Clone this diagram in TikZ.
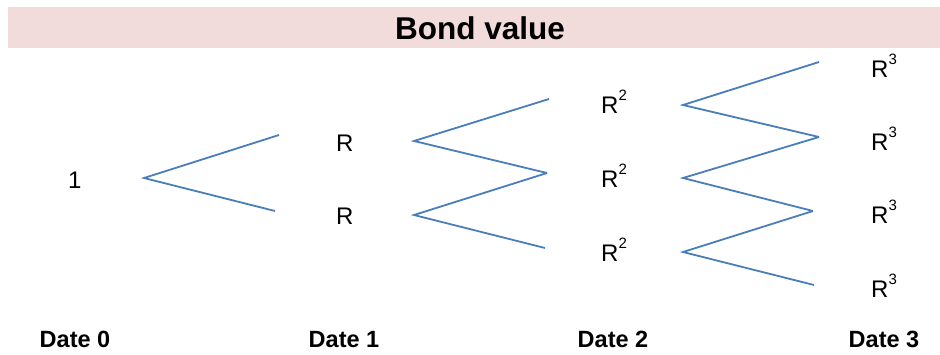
\documentclass[tikz,border=0pt]{standalone}
\usepackage{fontspec}
\setmainfont{Liberation Sans}
\definecolor{band}{HTML}{F2DCDB}
\definecolor{link}{HTML}{4A7EBB}
\newcommand{\mysup}[1]{\raisebox{13pt}{\fontsize{15}{18}\selectfont #1}}
\begin{document}
\begin{tikzpicture}[x=1pt,y=-1pt,
  lbl/.style={font=\fontsize{24}{28}\selectfont, inner sep=0pt},
  datelbl/.style={font=\bfseries\fontsize{23.5}{27}\selectfont, inner sep=0pt, anchor=base},
  titlelbl/.style={font=\bfseries\fontsize{31.5}{36}\selectfont, inner sep=0pt},
  branch/.style={draw=link, line width=1.8pt}]
\useasboundingbox (0,0) rectangle (940,354);
\fill[band] (8,7) rectangle (940,48);
\node[titlelbl] (title) at (480,28) {Bond value};
% values
\node[lbl, anchor=base west] (v0) at (68,188) {1};
\node[lbl, anchor=base west] (v1u) at (336,151) {R};
\node[lbl, anchor=base west] (v1d) at (336,224) {R};
\node[lbl, anchor=base west] (v2u) at (601,113) {R\mysup{2}};
\node[lbl, anchor=base west] (v2m) at (601,187) {R\mysup{2}};
\node[lbl, anchor=base west] (v2d) at (601,261) {R\mysup{2}};
\node[lbl, anchor=base west] (v3a) at (871,77) {R\mysup{3}};
\node[lbl, anchor=base west] (v3b) at (871,150) {R\mysup{3}};
\node[lbl, anchor=base west] (v3c) at (871,223) {R\mysup{3}};
\node[lbl, anchor=base west] (v3d) at (871,297) {R\mysup{3}};
% dates
\node[datelbl] (d0) at (75,347) {Date 0};
\node[datelbl] (d1) at (344,347) {Date 1};
\node[datelbl] (d2) at (613,347) {Date 2};
\node[datelbl] (d3) at (884,347) {Date 3};
% branch points
\coordinate (a0) at (144,178);
\coordinate (e1u) at (279,135);
\coordinate (e1d) at (275,211);
\coordinate (a1u) at (414,141);
\coordinate (a1d) at (414,215);
\coordinate (e2u) at (549,99);
\coordinate (e2m) at (547,173);
\coordinate (e2d) at (545,248);
\coordinate (a2u) at (683,105);
\coordinate (a2m) at (683,178);
\coordinate (a2d) at (683,252);
\coordinate (e3a) at (819,62);
\coordinate (e3b) at (819,137);
\coordinate (e3c) at (813,211);
\coordinate (e3d) at (814,285);
\draw[branch] (e1u) -- (a0) -- (e1d);
\draw[branch] (e2u) -- (a1u) -- (e2m);
\draw[branch] (e2m) -- (a1d) -- (e2d);
\draw[branch] (e3a) -- (a2u) -- (e3b);
\draw[branch] (e3b) -- (a2m) -- (e3c);
\draw[branch] (e3c) -- (a2d) -- (e3d);
\end{tikzpicture}
\end{document}
